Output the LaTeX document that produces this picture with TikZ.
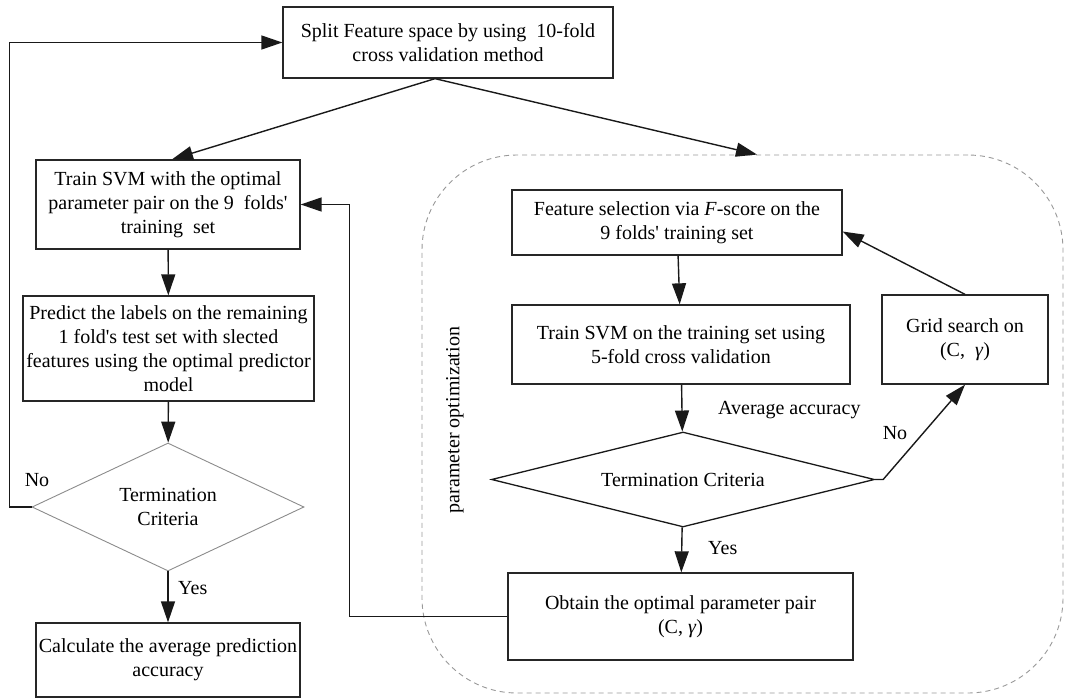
\documentclass[tikz,border=0pt]{standalone}
\usepackage{fontspec}
\setmainfont{Liberation Serif}
\usetikzlibrary{shapes.geometric,arrows.meta,positioning}

\begin{document}
\begin{tikzpicture}
			[
				x=1pt, y=-1pt,
				font=\fontsize{20}{24}\selectfont,
				align=center,
				block/.style={draw=black!85, line width=1.3pt, inner sep=0pt},
				decide/.style={diamond, inner sep=0pt},
				tag/.style={draw=none,fill=none,inner sep=0pt},
				arrow/.style={-{Triangle[length=21pt,width=14pt]}, line width=1.4pt, black!90}
			]
			\useasboundingbox[fill=white] (0,0) rectangle (1092,698);

			% optimization group
			\node[draw=black!40, line width=0.9pt, dash pattern=on 5pt off 4pt, rounded corners=95pt,
				minimum width=641pt, minimum height=538pt] (optgroup) at ( 742.5, 424.0 ) {};
			\node[tag, rotate=90] (optlabel) at ( 455.0, 420.0 ) {parameter optimization};

			% outer loop
			\node[block, minimum width=330pt, minimum height=71pt] (split) at ( 448.0,  42.5 )
				{Split Feature space by using \ 10-fold\\cross validation method};
			\node[block, minimum width=264pt, minimum height=89pt] (trainopt) at ( 168.0, 204.5 )
				{Train SVM with the optimal\\parameter pair on the 9 \ folds\textquotesingle\\training \ set};
			\node[block, minimum width=291pt, minimum height=105pt] (predict) at ( 168.5, 348.5 )
				{Predict the labels on the remaining\\1 fold\textquotesingle s test set with slected\\features using the optimal predictor\\model};
			\node[decide, draw=black!45, line width=0.9pt, aspect=2.1, minimum width=272pt, minimum height=128pt] (term1) at ( 168.0, 507.0 )
				{Termination\\Criteria};
			\node[block, minimum width=264pt, minimum height=74pt] (calc) at ( 168.0, 660.0 )
				{Calculate the average prediction\\accuracy};

			% inner loop
			\node[block, minimum width=330pt, minimum height=65pt] (featsel) at ( 677.0, 222.5 )
				{Feature selection via \textit{F}-score on the\\9 folds\textquotesingle\ training set};
			\node[block, minimum width=338pt, minimum height=79pt] (trainsvm) at ( 681.0, 344.5 )
				{Train SVM on the training set using\\5-fold cross validation};
			\node[decide, draw=black!90, line width=1.3pt, aspect=4, minimum width=383pt, minimum height=95pt] (term2) at ( 683.0, 479.5 )
				{Termination Criteria};
			\node[block, minimum width=345pt, minimum height=87pt] (obtain) at ( 680.5, 616.5 )
				{Obtain the optimal parameter pair\\(C, \textit{γ})};
			\node[block, minimum width=166pt, minimum height=89pt] (grid) at ( 965.0, 339.5 )
				{Grid search on\\(C, \ \textit{γ})};

			% transition labels
			\node[tag] (no1) at (  37.0, 480.0 ) {No};
			\node[tag, anchor=west] (yes1) at ( 178.0, 588.0 ) {Yes};
			\node[tag, anchor=west] (avg) at ( 718.0, 410.0 ) {Average accuracy};
			\node[tag] (no2) at ( 895.0, 433.0 ) {No};
			\node[tag, anchor=west] (yes2) at ( 708.0, 548.0 ) {Yes};

			% transition paths
			\draw[arrow] ([xshift=-13pt]split.south) -- ([xshift=4pt]trainopt.north);
			\draw[arrow] ([xshift=-13pt]split.south) -- ([xshift=14.5pt]optgroup.north);

			\foreach \from/\to in {trainopt/predict,predict/term1,term1/calc,featsel/trainsvm,trainsvm/term2,term2/obtain}
			\draw[arrow] (\from) -- (\to);

			\draw[arrow] (term1.west) -- ++(-22,0) |- (split.west);
			\draw[arrow] (obtain.west) -- ++(-158,0) |- (trainopt.east);
			\draw[arrow] (term2.east) -- ++(8,0) -- (grid.south);
			\draw[arrow] (grid.north) -- ([yshift=-9pt]featsel.east);

		\end{tikzpicture}
\end{document}
